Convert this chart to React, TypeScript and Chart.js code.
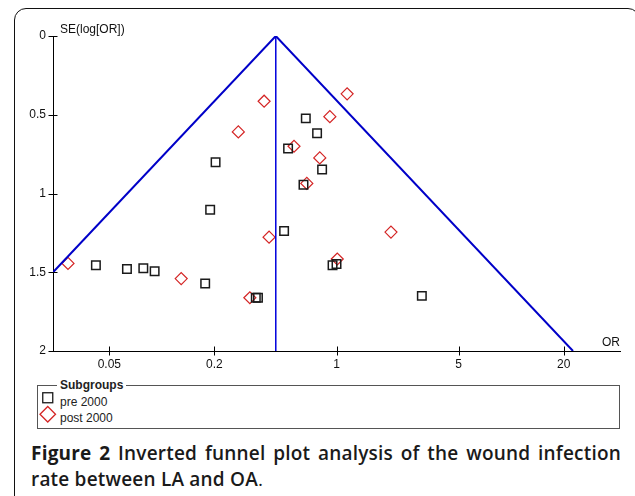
import React, { useEffect, useRef } from "react";
import { Chart, registerables } from "chart.js";

Chart.register(...registerables);

// Study estimates (odds ratio, standard error of log OR)
const preOR = [0.667, 0.774, 0.528, 0.827, 0.203, 0.647, 0.189, 0.0419, 0.0631, 0.0783, 0.0909, 0.177, 0.345, 0.355, 0.501, 0.949, 1.0, 3.08];
const preSE = [0.523, 0.618, 0.715, 0.847, 0.802, 0.944, 1.103, 1.455, 1.48, 1.474, 1.493, 1.572, 1.662, 1.662, 1.238, 1.455, 1.448, 1.65];
const postOR = [0.385, 1.15, 0.274, 0.916, 0.571, 0.802, 0.676, 0.411, 0.029, 0.129, 0.319, 2.05, 1.01];
const postSE = [0.414, 0.367, 0.609, 0.512, 0.7, 0.774, 0.936, 1.277, 1.444, 1.54, 1.662, 1.245, 1.416];

// Funnel (pooled estimate and 95% limits)
const funnelLeftOR = [0.449, 0.0238];
const funnelLeftSE = [0, 1.5];
const funnelRightOR = [0.449, 22.6];
const funnelRightSE = [0, 2];
const centerOR = [0.449, 0.449];
const centerSE = [0, 2];

const xTickValues = [0.05, 0.2, 1, 5, 20];
const xTickLabels = ["0.05", "0.2", "1", "5", "20"];
const yTickValues = [0, 0.5, 1, 1.5, 2];
const yTickLabels = ["0", "0.5", "1", "1.5", "2"];
const xMin = 0.0238;
const xMax = 42;

const CW = 635;
const CH = 378;
const FONT = "'Liberation Sans', Arial, sans-serif";

const zip = (xs: number[], ys: number[]) => xs.map((x, i) => ({ x, y: ys[i] }));

const decorPlugin = {
  id: "decor",
  afterDraw(chart: any) {
    const { ctx, chartArea, scales } = chart;
    const xs = scales.x;
    const ys = scales.y;
    ctx.save();
    ctx.strokeStyle = "#000";
    ctx.lineWidth = 1;
    xTickValues.forEach((v) => {
      const px = Math.round(xs.getPixelForValue(v)) + 0.5;
      ctx.beginPath();
      ctx.moveTo(px, chartArea.bottom - 4.5);
      ctx.lineTo(px, chartArea.bottom + 4.5);
      ctx.stroke();
    });
    yTickValues.forEach((v) => {
      const py = Math.round(ys.getPixelForValue(v)) + 0.5;
      ctx.beginPath();
      ctx.moveTo(chartArea.left - 4.5, py);
      ctx.lineTo(chartArea.left + 4.5, py);
      ctx.stroke();
    });
    ctx.fillStyle = "#111";
    ctx.font = `12px ${FONT}`;
    ctx.textBaseline = "middle";
    ctx.textAlign = "left";
    ctx.fillText("SE(log[OR])", chartArea.left + 7, chartArea.top - 6);
    ctx.textAlign = "right";
    ctx.fillText("OR", chartArea.right, chartArea.bottom - 8);
    ctx.restore();
  },
};

function FunnelChart() {
  const ref = useRef<HTMLCanvasElement | null>(null);
  useEffect(() => {
    if (!ref.current) return;
    const chart = new Chart(ref.current, {
      type: "scatter",
      data: {
        datasets: [
          {
            data: zip(funnelLeftOR, funnelLeftSE),
            showLine: true,
            borderColor: "#0000c8",
            borderWidth: 2,
            pointRadius: 0,
          },
          {
            data: zip(funnelRightOR, funnelRightSE),
            showLine: true,
            borderColor: "#0000c8",
            borderWidth: 2,
            pointRadius: 0,
          },
          {
            data: zip(centerOR, centerSE),
            showLine: true,
            borderColor: "#0000dd",
            borderWidth: 1.5,
            pointRadius: 0,
          },
          {
            label: "pre 2000",
            data: zip(preOR, preSE),
            showLine: false,
            pointStyle: "rect",
            pointRadius: 6,
            borderColor: "#1a1a1a",
            backgroundColor: "rgba(0,0,0,0)",
            borderWidth: 1.5,
          },
          {
            label: "post 2000",
            data: zip(postOR, postSE),
            showLine: false,
            pointStyle: "rectRot",
            pointRadius: 6,
            borderColor: "#d42424",
            backgroundColor: "rgba(0,0,0,0)",
            borderWidth: 1.2,
          },
        ],
      } as any,
      options: {
        animation: false,
        responsive: false,
        devicePixelRatio: 1,
        layout: { padding: { left: 0, right: 15, top: 36, bottom: 0 } },
        plugins: { legend: { display: false }, tooltip: { enabled: false } },
        scales: {
          x: {
            type: "logarithmic",
            min: xMin,
            max: xMax,
            afterBuildTicks: (s: any) => {
              s.ticks = xTickValues.map((v) => ({ value: v }));
            },
            afterFit: (s: any) => {
              s.height = CH - 351;
            },
            grid: { display: false, drawTicks: false },
            border: { display: true, color: "#000", width: 1 },
            ticks: {
              autoSkip: false,
              maxRotation: 0,
              padding: 6,
              color: "#111",
              font: { family: FONT, size: 12 },
              callback: (v: any) => {
                const i = xTickValues.indexOf(Number(v));
                return i >= 0 ? xTickLabels[i] : "";
              },
            },
          },
          y: {
            type: "linear",
            reverse: true,
            min: 0,
            max: 2,
            afterBuildTicks: (s: any) => {
              s.ticks = yTickValues.map((v) => ({ value: v }));
            },
            afterFit: (s: any) => {
              s.width = 53;
            },
            grid: { display: false, drawTicks: false },
            border: { display: true, color: "#000", width: 1 },
            ticks: {
              padding: 7,
              color: "#111",
              font: { family: FONT, size: 12 },
              callback: (v: any) => {
                const i = yTickValues.indexOf(Number(v));
                return i >= 0 ? yTickLabels[i] : "";
              },
            },
          },
        },
      } as any,
      plugins: [decorPlugin],
    });
    return () => chart.destroy();
  }, []);
  return (
    <canvas
      ref={ref}
      width={CW}
      height={CH}
      style={{ position: "absolute", left: 0, top: 0, width: CW, height: CH }}
    />
  );
}

export default function App() {
  const legendText = { fontFamily: FONT, fontSize: 12, color: "#222", position: "absolute" as const, lineHeight: "14px" };
  const captionFont = "'Open Sans', 'Noto Sans', sans-serif";
  return (
    <div
      style={{
        position: "fixed",
        left: 0,
        top: 0,
        width: 635,
        height: 496,
        background: "#fff",
        overflow: "hidden",
      }}
    >
      <div
        style={{
          position: "absolute",
          left: 14,
          top: 8,
          width: 626,
          height: 600,
          border: "1.5px solid #111",
          borderRadius: 12,
          boxSizing: "border-box",
        }}
      />
      <FunnelChart />
      {/* Legend */}
      <div
        style={{
          position: "absolute",
          left: 37,
          top: 385,
          width: 583,
          height: 44,
          border: "1.5px solid #555",
          boxSizing: "border-box",
        }}
      />
      <div style={{ ...legendText, left: 57, top: 378, background: "#fff", padding: "0 3px", fontWeight: 700 }}>Subgroups</div>
      <svg style={{ position: "absolute", left: 38, top: 390 }} width={22} height={36}>
        <rect x={4.75} y={2.75} width={10} height={10} fill="none" stroke="#1a1a1a" strokeWidth={1.3} />
        <polygon points="9.75,16.5 17.5,24.25 9.75,32 2,24.25" fill="none" stroke="#d42424" strokeWidth={1.3} />
      </svg>
      <div style={{ ...legendText, left: 60, top: 395 }}>pre 2000</div>
      <div style={{ ...legendText, left: 60, top: 411 }}>post 2000</div>
      {/* Caption */}
      <div
        style={{
          position: "absolute",
          left: 31,
          top: 440,
          width: 590,
          fontFamily: captionFont,
          fontSize: 19,
          letterSpacing: "0.2px",
          lineHeight: "26px",
          color: "#1a1a1a",
          fontWeight: 600,
        }}
      >
        <div style={{ textAlign: "justify", textAlignLast: "justify", whiteSpace: "nowrap" as const }}>
          <span style={{ fontWeight: 700 }}>Figure 2</span> Inverted funnel plot analysis of the wound infection
        </div>
        <div>
          rate between LA and OA<span style={{ fontWeight: 400 }}>.</span>
        </div>
      </div>
    </div>
  );
}
